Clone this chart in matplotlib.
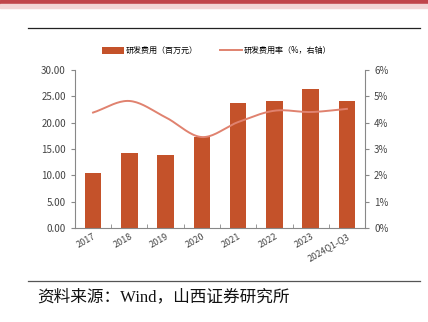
import numpy as np
import matplotlib
matplotlib.use("Agg")
import matplotlib.pyplot as plt
from matplotlib.lines import Line2D

plt.rcParams['font.family'] = ['Noto Sans CJK SC', 'DejaVu Sans']

# data
years = ['2017', '2018', '2019', '2020', '2021', '2022', '2023', '2024Q1-Q3']
rd_cost = [10.4, 14.3, 13.9, 17.3, 23.8, 24.0, 26.3, 24.1]   # 百万元
rd_rate = [4.38, 4.82, 4.20, 3.45, 4.02, 4.45, 4.40, 4.52]   # %

bar_color = '#C4522A'
line_color = '#E0826F'
tick_color = '#444444'


def smooth(x, y, n=20):
    # catmull-rom curve through the points, for drawing only
    x = np.asarray(x, float)
    y = np.asarray(y, float)
    px = np.concatenate([[2 * x[0] - x[1]], x, [2 * x[-1] - x[-2]]])
    py = np.concatenate([[2 * y[0] - y[1]], y, [2 * y[-1] - y[-2]]])
    xs, ys = [], []
    t = np.linspace(0, 1, n, endpoint=False)
    for i in range(1, len(px) - 2):
        for p, out in ((px, xs), (py, ys)):
            p0, p1, p2, p3 = p[i - 1], p[i], p[i + 1], p[i + 2]
            out.extend(0.5 * (2 * p1 + (-p0 + p2) * t
                              + (2 * p0 - 5 * p1 + 4 * p2 - p3) * t ** 2
                              + (-p0 + 3 * p1 - 3 * p2 + p3) * t ** 3))
    xs.append(x[-1])
    ys.append(y[-1])
    return np.array(xs), np.array(ys)


fig = plt.figure(figsize=(4.28, 3.22), dpi=100)

# header band and rules
fig.patches.append(plt.Rectangle((0, 0.989), 1, 0.011, transform=fig.transFigure,
                                 color='#C0464B', zorder=0))
fig.patches.append(plt.Rectangle((0, 0.975), 1, 0.014, transform=fig.transFigure,
                                 color='#F2D6D6', zorder=0))
fig.add_artist(Line2D([0.066, 0.982], [0.912, 0.912], color='#222222', lw=0.9))
fig.add_artist(Line2D([0.066, 0.982], [0.128, 0.128], color='#555555', lw=0.9))

ax = fig.add_axes([0.175, 0.292, 0.678, 0.491])
x = np.arange(len(years))
ax.bar(x, rd_cost, width=0.46, color=bar_color, zorder=2, label='研发费用（百万元）')
ax.set_ylim(0, 30)
ax.set_yticks(np.arange(0, 31, 5))
ax.set_yticklabels(['%.2f' % v for v in np.arange(0, 31, 5)])
ax.set_xlim(-0.5, len(years) - 0.5)
ax.set_xticks(x)
ax.set_xticklabels(years, rotation=30, ha='right', rotation_mode='anchor')
ax.set_xticks(np.arange(-0.5, len(years), 1), minor=True)
ax.tick_params(axis='x', which='major', length=0, labelsize=6.5, colors=tick_color, pad=3)
ax.tick_params(axis='x', which='minor', length=3, direction='in', color='#888888')
ax.tick_params(axis='y', length=3, labelsize=7, colors=tick_color, color='#888888')
for s in ['top', 'right']:
    ax.spines[s].set_visible(False)
ax.spines['left'].set_color('#888888')
ax.spines['bottom'].set_color('#888888')

ax2 = ax.twinx()
sx, sy = smooth(x, rd_rate)
ax2.plot(sx, sy, color=line_color, lw=1.4, zorder=3, label='研发费用率（%，右轴）')
ax2.set_ylim(0, 6)
ax2.set_yticks(range(0, 7))
ax2.set_yticklabels(['%d%%' % v for v in range(0, 7)])
ax2.tick_params(axis='y', length=3, labelsize=7, colors=tick_color, color='#888888')
for s in ['top', 'left', 'bottom']:
    ax2.spines[s].set_visible(False)
ax2.spines['right'].set_color('#888888')

h1, l1 = ax.get_legend_handles_labels()
h2, l2 = ax2.get_legend_handles_labels()
fig.legend(h1 + h2, l1 + l2, loc='center', bbox_to_anchor=(0.506, 0.843), ncol=2,
           frameon=False, fontsize=5.8, handlelength=2.8, handleheight=0.9,
           columnspacing=2.7, handletextpad=0.2)

fig.text(0.086, 0.077, '资料来源：Wind，山西证券研究所', fontsize=12,
         family=['Liberation Serif', 'Noto Sans CJK SC'], color='#111111', va='center')

fig.savefig('out.png', dpi=100)
